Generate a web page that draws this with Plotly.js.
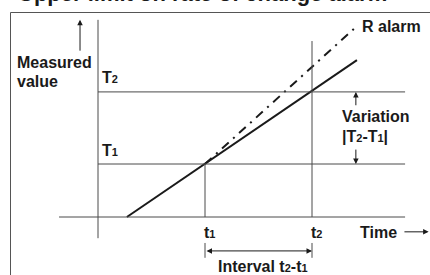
<!DOCTYPE html>
<html>
<head>
<meta charset="utf-8">
<script src="https://cdn.plot.ly/plotly-3.0.1.min.js"></script>
<style>html,body{margin:0;padding:0;background:#fff;}#chart{width:430px;height:275px;}</style>
</head>
<body>
<div id="chart"></div>
<script>
// ---- data (diagram units: time t, measured value) ----
const tickTimes = [1, 2];
const tickLabels = ['t<span style="font-size:11px">1</span>', 't<span style="font-size:11px">2</span>'];
const levelValues = [1, 2.36];
const levelLabels = ['T<span style="font-size:11px">1</span>', 'T<span style="font-size:11px">2</span>'];
const measuredX = [0.27, 1, 2.42];
const measuredY = [0, 1, 2.96];
const alarmX = [1, 2.43];
const alarmY = [1, 3.62];

const W = 430, H = 275;
const FONT = 'Liberation Sans, Arial, Helvetica, sans-serif';
const INK = '#1a1a1a';
const GRID = '#4a4a4a';
const SIZE = 16;
// pixel helpers for layout placement
const px = x => x / W;
const py = y => 1 - y / H;

const traces = [
  {x: measuredX, y: measuredY, mode: 'lines', line: {color: INK, width: 2}, hoverinfo: 'skip'},
  {x: alarmX, y: alarmY, mode: 'lines', line: {color: INK, width: 2, dash: '9px,6px,2px,6px'}, hoverinfo: 'skip'}
];

const shapes = [];
const line = (x0, y0, x1, y1, color, width) => shapes.push({type: 'line', xref: 'x', yref: 'y', x0, y0, x1, y1, line: {color, width}});
// frame
shapes.push({type: 'rect', xref: 'paper', yref: 'paper', x0: px(10.5), x1: px(445), y0: py(290), y1: py(12.5), line: {color: '#555', width: 1}});
// axes
line(0, -0.40, 0, 3.72, GRID, 1);
line(-0.364, 0, 2.87, 0, GRID, 1);
// level lines
levelValues.forEach(v => line(0, v, 2.87, v, GRID, 1));
// time verticals
line(tickTimes[0], 0, tickTimes[0], levelValues[0], GRID, 1);
line(tickTimes[1], 0, tickTimes[1], 3.32, GRID, 1);
// interval ticks
tickTimes.forEach(t => line(t, -0.49, t, -0.77, GRID, 1));

const ann = [];
const font = size => ({family: FONT, size: size || SIZE, color: INK, weight: 'bold'});
const txt = (text, x, y, size) => ann.push({text, xref: 'paper', yref: 'paper', x: px(x), y: py(y), xanchor: 'left', yanchor: 'middle', showarrow: false, font: font(size)});
const arrow = (x0, y0, x1, y1, side) => ann.push({text: '', xref: 'x', yref: 'y', axref: 'x', ayref: 'y', x: x1, y: y1, ax: x0, ay: y0, showarrow: true, arrowhead: 2, arrowsize: 1.1, arrowwidth: 1, arrowcolor: INK, arrowside: side || 'end', standoff: 0, startstandoff: 0});

txt('Upper limit on rate of change alarm', 16, -6.5, 22);
txt('Measured', 15, 62.5);
txt('value', 15, 81.5);
txt('R alarm', 360, 26.5);
txt('Variation', 340, 116.5);
txt('|T<span style="font-size:11px">2</span>-T<span style="font-size:11px">1</span>|', 340, 136.5);
txt('Time', 358, 232);
txt('Interval t<span style="font-size:11px">2</span>-t<span style="font-size:11px">1</span>', 216, 266);
levelLabels.forEach((l, i) => ann.push({text: l, xref: 'x', yref: 'y', x: 0, y: levelValues[i], xanchor: 'left', yanchor: 'middle', xshift: 2, yshift: 14, showarrow: false, font: font()}));
tickLabels.forEach((l, i) => ann.push({text: l, xref: 'x', yref: 'y', x: tickTimes[i], y: 0, xanchor: 'left', yanchor: 'middle', xshift: -3, yshift: -15, showarrow: false, font: font()}));

arrow(-0.168, 3.11, -0.168, 3.72);
arrow(2.41, 2.08, 2.41, levelValues[1]);
arrow(2.41, 1.30, 2.41, levelValues[0]);
arrow(2.85, -0.28, 3.09, -0.28);
arrow(tickTimes[0], -0.64, tickTimes[1], -0.64, 'end+start');

const layout = {
  width: W, height: H,
  margin: {l: 0, r: 0, t: 0, b: 0},
  paper_bgcolor: '#fff', plot_bgcolor: '#fff',
  showlegend: false,
  xaxis: {range: [-98 / 107, 332 / 107], visible: false, fixedrange: true},
  yaxis: {range: [-58 / 53, 217 / 53], visible: false, fixedrange: true},
  shapes, annotations: ann
};
Plotly.newPlot('chart', traces, layout, {displayModeBar: false, staticPlot: true});
</script>
</body>
</html>
